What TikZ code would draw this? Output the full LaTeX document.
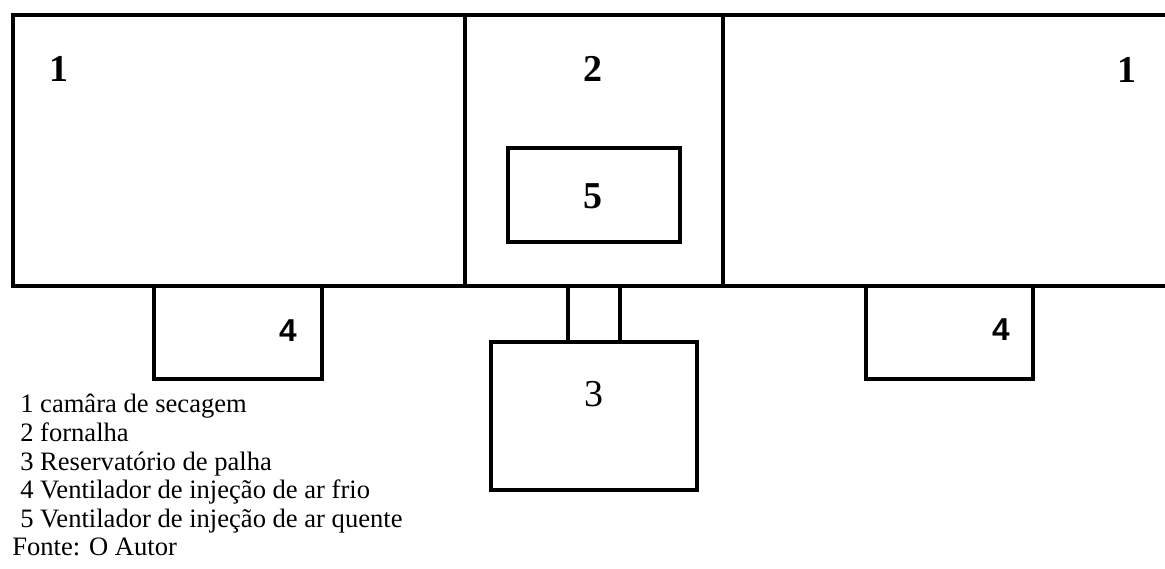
\documentclass[tikz,border=0pt]{standalone}
\usepackage{fontspec}
\setmainfont{Liberation Serif}
\newfontfamily\arialfont{Liberation Sans}
\usepackage{tikz}
\tikzset{
  wall/.style={line width=2.6pt, line cap=rect},
  part/.style={line width=2.4pt},
  numlabel/.style={anchor=base, inner sep=0pt, font=\fontsize{27}{27}\selectfont\bfseries},
  fanlabel/.style={anchor=base, inner sep=0pt, font=\arialfont\fontsize{22.5}{22.5}\selectfont\bfseries},
  legend/.style={anchor=base west, inner sep=0pt, font=\fontsize{18.9}{20}\selectfont}
}

\begin{document}
\begin{tikzpicture}[x=0.025cm, y=-0.025cm]
\useasboundingbox (0,0) rectangle (1165,569);

% outline of the dryer (open on the right)
\draw[wall] (1166,15) -- (13,15) -- (13,286) -- (1166,286);

% furnace walls
\draw[part] (465,15) -- (465,286);
\draw[part] (723,15) -- (723,286);

% hot air fan inside the furnace
\draw[part] (508,148) rectangle (680,242);

% cold air fans
\draw[part] (154,286) rectangle (322,379);
\draw[part] (866,286) rectangle (1033,379);

% straw reservoir and its neck
\coordinate (neckL) at (568,286);
\coordinate (neckR) at (620,286);
\draw[part] (491,342) rectangle (697,490);
\draw[part] (neckL) -- (568,342);
\draw[part] (neckR) -- (620,342);

% numbers
\node[numlabel] (camL) at (59,82) {1};
\node[numlabel] (forn) at (593,82) {2};
\node[numlabel] (camR) at (1127,83) {1};
\node[numlabel] (fanQ) at (593,209) {5};
\node[anchor=base, inner sep=0pt, font=\fontsize{27}{27}\selectfont] (resv) at (594,407) {3};
\node[fanlabel] (fanL) at (288,342) {4};
\node[fanlabel] (fanR) at (1001,341) {4};

% legend
\foreach \n/\descr in {1/camâra de secagem, 2/fornalha, 3/Reservatório de palha,
  4/Ventilador de injeção de ar frio, 5/Ventilador de injeção de ar quente}
\node[legend] (leg\n) at (20,{413+28.6*(\n-1)}) {\n\ \descr};
\node[legend] (fonte) at (12,556) {Fonte: O Autor};
\end{tikzpicture}
\end{document}
